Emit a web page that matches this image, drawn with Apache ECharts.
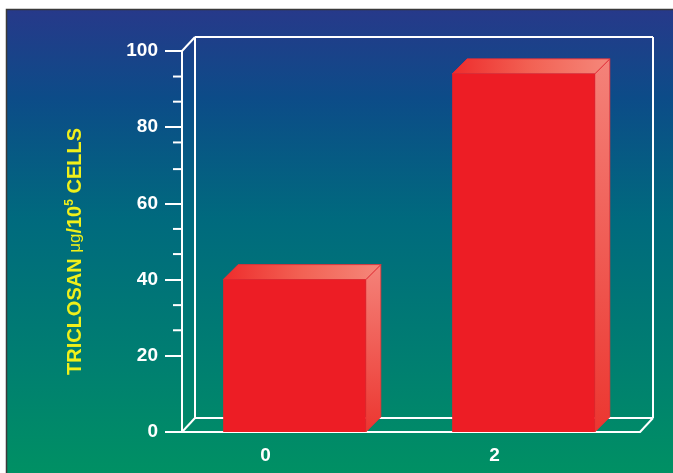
<!DOCTYPE html>
<html>
<head>
<meta charset="utf-8">
<script src="https://cdn.jsdelivr.net/npm/echarts@6/dist/echarts.min.js"></script>
<style>
  html, body { margin: 0; padding: 0; background: #ffffff; }
  #chart { width: 673px; height: 473px; }
</style>
</head>
<body>
<div id="chart"></div>
<script>
// Triclosan uptake per 10^5 cells
const categories = ['0', '2'];
const triclosan = [40, 94];
const yTicks = { min: 0, max: 100, interval: 20 };
const minorTickValues = [26.7, 33.3, 46.7, 53.3, 69, 76, 86.7, 93.3];

const FRAME_DX = 13, FRAME_DY = -14;   // depth of the back wall
const BAR_DEPTH = 15;                 // depth of each 3D bar

const chart = echarts.init(document.getElementById('chart'), null, { renderer: 'canvas' });

const white = '#ffffff';
const font = 'Liberation Sans, Arial, sans-serif';

function frameItem(params, api) {
  const cs = params.coordSys;
  const L = cs.x, R = cs.x + cs.width, T = cs.y, B = cs.y + cs.height;
  const st = { stroke: white, lineWidth: 2, fill: null };
  const ln = (x1, y1, x2, y2) => ({ type: 'line', shape: { x1, y1, x2, y2 }, style: st });
  const bx = FRAME_DX, by = FRAME_DY;
  return {
    type: 'group',
    children: [
      ln(L + bx, T + by, R + bx, T + by),
      ln(R + bx, T + by, R + bx, B + by),
      ln(L + bx, B + by, R + bx, B + by),
      ln(L + bx, T + by, L + bx, B + by),
      ln(L, T, L + bx, T + by),
      ln(L, B, L + bx, B + by),
      ln(R, B, R + bx, B + by)
    ]
  };
}

function minorTickItem(params, api) {
  const cs = params.coordSys;
  const y = api.coord([0, api.value(0)])[1];
  return {
    type: 'line',
    shape: { x1: cs.x - 9, y1: y, x2: cs.x, y2: y },
    style: { stroke: white, lineWidth: 2 }
  };
}

function barItem(params, api) {
  const idx = api.value(0);
  const top = api.coord([idx, api.value(1)]);
  const base = api.coord([idx, 0]);
  const bandW = api.size([1, 0])[0];
  const w = bandW * 0.623;
  const x0 = top[0] - w / 2 - 2, x1 = x0 + w;
  const yt = top[1], yb = base[1];
  const d = BAR_DEPTH;
  return {
    type: 'group',
    children: [
      {
        type: 'polygon',
        shape: { points: [[x1, yt], [x1 + d, yt - d], [x1 + d, yb - d], [x1, yb]] },
        style: {
          fill: new echarts.graphic.LinearGradient(0, 0, 0, 1, [
            { offset: 0, color: '#F4837A' },
            { offset: 1, color: '#EC3630' }
          ]),
          stroke: '#EE3036', lineWidth: 0.8
        }
      },
      {
        type: 'polygon',
        shape: { points: [[x0, yt], [x1, yt], [x1 + d, yt - d], [x0 + d, yt - d]] },
        style: {
          fill: new echarts.graphic.LinearGradient(0, 0, 1, 0, [
            { offset: 0, color: '#EE2C2C' },
            { offset: 0.5, color: '#F26254' },
            { offset: 1, color: '#F5887B' }
          ]),
          stroke: '#EE2A32', lineWidth: 0.8
        }
      },
      {
        type: 'rect',
        shape: { x: x0, y: yt, width: w, height: yb - yt },
        style: { fill: '#ED1D25' }
      }
    ]
  };
}

const option = {
  backgroundColor: '#ffffff',
  animation: false,
  graphic: [{
    type: 'rect',
    z: -10,
    silent: true,
    shape: { x: 6.5, y: 9.5, width: 700, height: 500 },
    style: {
      fill: new echarts.graphic.LinearGradient(0, 0, 0, 1, [
        { offset: 0, color: '#27398A' },
        { offset: 0.18, color: '#0C4C88' },
        { offset: 0.42, color: '#006A7E' },
        { offset: 0.72, color: '#008070' },
        { offset: 1, color: '#00965F' }
      ]),
      stroke: '#3a3a3a',
      lineWidth: 1.5
    }
  }],
  grid: { left: 182, right: 33, top: 51, bottom: 41 },
  xAxis: {
    type: 'category',
    data: categories,
    axisLine: { show: true, lineStyle: { color: white, width: 2 } },
    axisTick: { show: false },
    axisLabel: {
      color: white, fontFamily: font, fontWeight: 'bold', fontSize: 19,
      margin: 14, padding: [0, 62, 0, 0]
    },
    splitLine: { show: false }
  },
  yAxis: {
    type: 'value',
    min: yTicks.min, max: yTicks.max, interval: yTicks.interval,
    axisLine: { show: true, lineStyle: { color: white, width: 2 } },
    axisTick: { show: true, length: 17, lineStyle: { color: white, width: 2 } },
    axisLabel: { color: white, fontFamily: font, fontWeight: 'bold', fontSize: 19, margin: 24 },
    splitLine: { show: false },
    name: '{a|TRICLOSAN }{m|μg}{a|/10}{s|5}{a| CELLS}',
    nameLocation: 'middle',
    nameRotate: 90,
    nameGap: 95,
    nameTextStyle: {
      padding: [0, 20, 0, 0],
      rich: {
        a: { color: '#F0F01A', fontFamily: font, fontWeight: 'bold', fontSize: 20, lineHeight: 23 },
        m: { color: '#F0F01A', fontFamily: font, fontWeight: 'normal', fontSize: 17, lineHeight: 23 },
        s: { color: '#F0F01A', fontFamily: font, fontWeight: 'bold', fontSize: 12, lineHeight: 23, verticalAlign: 'top', padding: [0, 0, 8, 0] }
      }
    }
  },
  series: [
    {
      type: 'custom',
      name: 'frame',
      renderItem: frameItem,
      data: [[0, 0]],
      clip: false,
      silent: true,
      z: 1
    },
    {
      type: 'custom',
      name: 'minorTicks',
      renderItem: minorTickItem,
      data: minorTickValues.map(v => [v]),
      encode: { y: 0 },
      clip: false,
      silent: true,
      z: 1
    },
    {
      type: 'custom',
      name: 'triclosan',
      renderItem: barItem,
      data: triclosan.map((v, i) => [i, v]),
      encode: { x: 0, y: 1 },
      clip: false,
      z: 3
    }
  ]
};

chart.setOption(option);
</script>
</body>
</html>
